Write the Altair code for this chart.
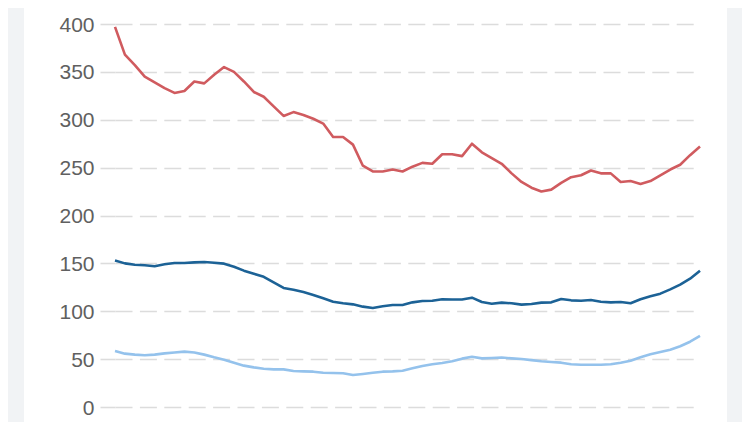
import altair as alt
import pandas as pd

# values (60 evenly spaced points per series)
red = [397, 368, 357, 345, 339, 333, 328, 330, 340, 338,
       347, 355, 350, 340, 329, 324, 314, 304, 308, 305,
       301, 296, 282, 282, 274, 252, 246, 246, 248, 246,
       251, 255, 254, 264, 264, 262, 275, 266, 260, 254,
       244, 235, 229, 225, 227, 234, 240, 242, 247, 244,
       244, 235, 236, 233, 236, 242, 248, 253, 263, 272]
dark = [153, 150, 148.6, 148, 147, 149, 150.4, 150.4, 151, 151.4,
        150.7, 149.7, 146.5, 142.4, 139.2, 136, 130.2, 124.3, 122.5, 120,
        117, 113.5, 110, 108.3, 107.2, 104.8, 103.4, 105.2, 106.5, 106.5,
        109.3, 110.7, 111, 112.5, 112.2, 112.2, 114.2, 109.7, 107.9, 109,
        108.3, 106.9, 107.6, 109, 109.3, 112.8, 111.4, 111, 111.7, 110,
        109.3, 109.7, 108.3, 112.5, 115.6, 118.4, 122.9, 127.8, 134, 142.4]
light = [58.5, 55.7, 54.7, 54, 54.7, 56, 57, 57.8, 57, 54.7,
         51.9, 49.4, 46.3, 43.2, 41.4, 40, 39.3, 39.3, 37.6, 37.2,
         36.9, 35.8, 35.5, 35.2, 33.4, 34.5, 35.8, 36.9, 37.2, 37.9,
         40.4, 42.8, 44.6, 46, 47.7, 50.5, 52.5, 50.8, 51.2, 51.7,
         50.8, 50.1, 49, 47.7, 47, 46.3, 44.6, 44.2, 44.2, 44.2,
         44.6, 46.3, 48.4, 51.9, 55, 57.4, 59.9, 63.4, 68.2, 74.2]
series_names = ["red", "dark", "light"]
series_colors = ["#d05b5f", "#1c6296", "#94c2ec"]
y_ticks = [0, 50, 100, 150, 200, 250, 300, 350, 400]

rows = []
for name, vals in zip(series_names, [red, dark, light]):
    for i, v in enumerate(vals):
        rows.append({"i": i, "value": v, "series": name})
df = pd.DataFrame(rows)

W, H = 585, 383
GREY = "#f1f3f5"

strip_data = alt.Data(values=[{"k": 1}])
left_strip = alt.Chart(strip_data).mark_rect(color=GREY).encode(
    x=alt.value(-110), x2=alt.value(-91), y=alt.value(-20), y2=alt.value(430)
)
right_strip = alt.Chart(strip_data).mark_rect(color=GREY).encode(
    x=alt.value(612), x2=alt.value(700), y=alt.value(-20), y2=alt.value(430)
)

lines = alt.Chart(df).mark_line(strokeWidth=2.6, strokeJoin="round").encode(
    x=alt.X("i:Q", axis=None,
            scale=alt.Scale(domain=[0, len(red) - 1], nice=False, zero=False)),
    y=alt.Y("value:Q", title=None,
            scale=alt.Scale(domain=[0, 400], nice=False),
            axis=alt.Axis(values=y_ticks, domain=False, ticks=True, tickSize=15,
                          tickColor="#dcdcdc", tickWidth=1.6,
                          grid=True, gridColor="#dcdcdc", gridWidth=1.6,
                          gridDash=[17, 7.4],
                          labelFont="Liberation Sans", labelFontSize=21,
                          labelColor="#606060", labelPadding=6,
                          labelBaseline="middle", labelOffset=1)),
    color=alt.Color("series:N", legend=None,
                    scale=alt.Scale(domain=series_names, range=series_colors)),
)

chart = alt.layer(left_strip, right_strip, lines).properties(
    width=W, height=H,
    autosize=alt.AutoSizeParams(type="none"),
    padding={"left": 107, "top": 16, "right": 42, "bottom": 15},
    background="white",
).configure_view(stroke=None)

chart.save("out.html", embed_options={"renderer": "svg", "actions": False})
